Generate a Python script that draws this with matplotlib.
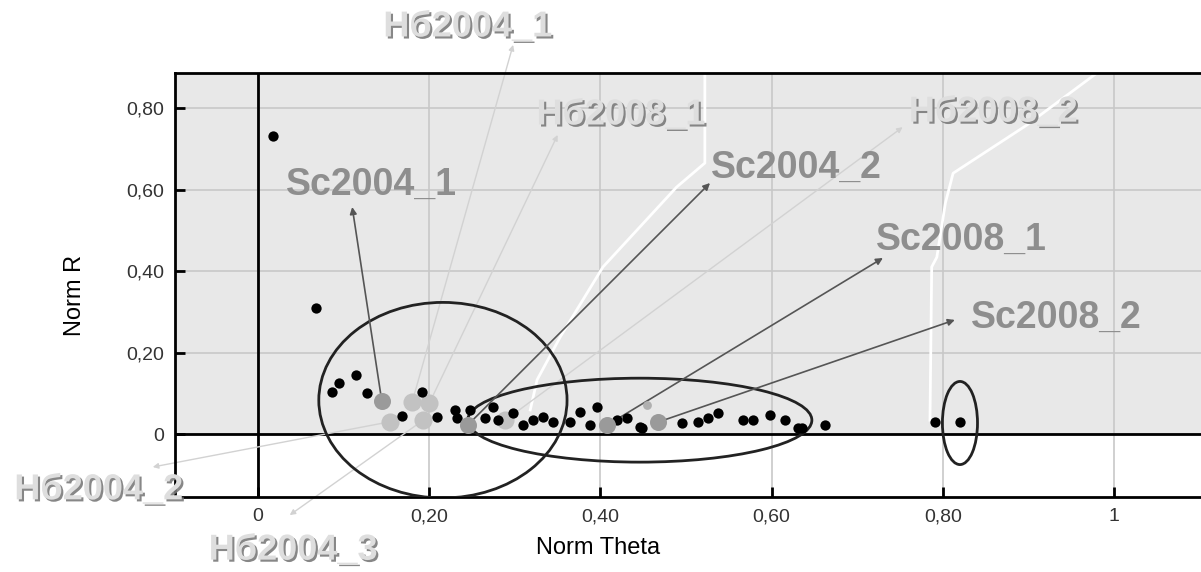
import matplotlib
matplotlib.use('Agg')
import matplotlib.pyplot as plt
import matplotlib.patheffects as pe
from matplotlib.patches import Ellipse

plt.rcParams['font.family'] = ['Liberation Sans', 'DejaVu Sans']

# black sample points (Norm Theta, Norm R)
black_theta = [0.018, 0.068, 0.086, 0.095, 0.115, 0.127, 0.168, 0.191, 0.209, 0.230,
               0.232, 0.248, 0.265, 0.275, 0.280, 0.298, 0.310, 0.321, 0.333, 0.345,
               0.364, 0.376, 0.388, 0.396, 0.419, 0.431, 0.446, 0.449, 0.495, 0.514,
               0.526, 0.537, 0.567, 0.578, 0.598, 0.616, 0.631, 0.636, 0.662, 0.791,
               0.820]
black_r = [0.731, 0.309, 0.102, 0.126, 0.145, 0.101, 0.045, 0.102, 0.042, 0.059,
           0.039, 0.059, 0.039, 0.067, 0.034, 0.052, 0.022, 0.034, 0.042, 0.029,
           0.029, 0.054, 0.022, 0.066, 0.034, 0.039, 0.017, 0.015, 0.027, 0.029,
           0.039, 0.052, 0.034, 0.034, 0.047, 0.034, 0.015, 0.015, 0.022, 0.029,
           0.029]

# Sc points (darker grey, with arrows)
sc_labels = ['Sc2004_1', 'Sc2004_2', 'Sc2008_1', 'Sc2008_2']
sc_theta = [0.1445, 0.245, 0.408, 0.467]
sc_r = [0.082, 0.022, 0.022, 0.029]

# Hб points (light grey, faint lines)
hb_labels = ['Hб2004_1', 'Hб2004_2', 'Hб2004_3', 'Hб2008_1', 'Hб2008_2']
hb_theta = [0.180, 0.154, 0.193, 0.200, 0.289]
hb_r = [0.078, 0.030, 0.034, 0.075, 0.034]

# extra light points
extra_theta = [0.454]
extra_r = [0.071]

# white boundary lines
white1_theta = [0.522, 0.522, 0.489, 0.403, 0.353, 0.326, 0.318]
white1_r = [0.886, 0.665, 0.606, 0.410, 0.238, 0.133, 0.059]
white2_theta = [0.980, 0.898, 0.812, 0.803, 0.793, 0.787, 0.785]
white2_r = [0.886, 0.758, 0.640, 0.567, 0.434, 0.410, 0.034]

x_ticks = [0, 0.2, 0.4, 0.6, 0.8, 1.0]
x_ticklabels = ['0', '0,20', '0,40', '0,60', '0,80', '1']
y_ticks = [0, 0.2, 0.4, 0.6, 0.8]
y_ticklabels = ['0', '0,20', '0,40', '0,60', '0,80']

# label layout: (text centre, arrow head)
sc_text_pos = [(0.132, 0.611), (0.629, 0.653), (0.822, 0.476), (0.933, 0.285)]
sc_head_pos = [(0.110, 0.557), (0.528, 0.616), (0.730, 0.432), (0.814, 0.280)]
hb_text_pos = [(0.245, 0.999), (-0.186, -0.137), (0.041, -0.285), (0.424, 0.783), (0.859, 0.790)]
hb_head_pos = [(0.298, 0.955), (-0.123, -0.081), (0.037, -0.199), (0.350, 0.734), (0.753, 0.753)]

fig = plt.figure(figsize=(12.01, 5.72), dpi=100)
ax = fig.add_axes([175 / 1201, 1 - 497 / 572, 1026 / 1201, 424 / 572])

xmin, xmax = -0.097, 1.1016
ymin, ymax = -0.1546, 0.886
ax.set_xlim(xmin, xmax)
ax.set_ylim(ymin, ymax)

ax.axhspan(0, ymax, color='#e8e8e8', zorder=0, lw=0)
ax.set_xticks(x_ticks)
ax.set_xticklabels(x_ticklabels)
ax.set_yticks(y_ticks)
ax.set_yticklabels(y_ticklabels)
ax.grid(True, color='#c8c8c8', lw=1.2, zorder=0.5)
ax.set_axisbelow(True)
ax.tick_params(direction='in', length=7, width=2, labelsize=14, labelcolor='#333333',
               pad=8)

for s in ['left', 'top', 'bottom']:
    ax.spines[s].set_linewidth(2)
ax.spines['right'].set_visible(False)

ax.axhline(0, color='black', lw=2, zorder=2)
ax.axvline(0, color='black', lw=2, zorder=2)

ax.plot(white1_theta, white1_r, color='white', lw=2, zorder=1.5)
ax.plot(white2_theta, white2_r, color='white', lw=2, zorder=1.5)

# hand drawn ellipses
for c, w, h in [((0.216, 0.083), 0.29, 0.48),
                ((0.446, 0.034), 0.402, 0.206),
                ((0.820, 0.027), 0.041, 0.204)]:
    ax.add_patch(Ellipse(c, w, h, fill=False, ec='#222222', lw=2, zorder=3))

# faint lines to the Hб labels
for i, lab in enumerate(hb_labels):
    ax.annotate('', xy=hb_head_pos[i], xytext=(hb_theta[i], hb_r[i]),
                arrowprops=dict(arrowstyle='-|>', color='#d2d2d2', lw=1,
                                mutation_scale=8, shrinkA=0, shrinkB=0),
                annotation_clip=False, zorder=2.5)
    ax.text(hb_text_pos[i][0], hb_text_pos[i][1], lab, fontsize=26, color='#dedede',
            ha='center', va='center', fontweight='bold', clip_on=False, zorder=6,
            path_effects=[pe.SimplePatchShadow(offset=(1.5, -1.5), shadow_rgbFace='#7a7a7a',
                                               alpha=0.9), pe.Normal()])

# arrows to the Sc labels
for i, lab in enumerate(sc_labels):
    ax.annotate('', xy=sc_head_pos[i], xytext=(sc_theta[i], sc_r[i]),
                arrowprops=dict(arrowstyle='-|>', color='#555555', lw=1.2,
                                mutation_scale=10, shrinkA=0, shrinkB=0),
                zorder=4)
    ax.text(sc_text_pos[i][0], sc_text_pos[i][1], lab, fontsize=27, color='#8e8e8e',
            ha='center', va='center', fontweight='bold', zorder=6)

ax.scatter(black_theta, black_r, s=55, color='black', zorder=5, lw=0)
ax.scatter(hb_theta, hb_r, s=170, color='#c2c2c2', zorder=4.5, lw=0)
ax.scatter(extra_theta, extra_r, s=40, color='#b0b0b0', zorder=4.5, lw=0)
ax.scatter(sc_theta, sc_r, s=150, color='#9a9a9a', zorder=5.5, lw=0)

ax.set_xlabel('Norm Theta', fontsize=17, va='center')
ax.set_ylabel('Norm R', fontsize=17, va='center')
ax.xaxis.set_label_coords(0.412, -0.12)
ax.yaxis.set_label_coords(-0.0975, 0.476)

fig.savefig('out.png', dpi=100)
